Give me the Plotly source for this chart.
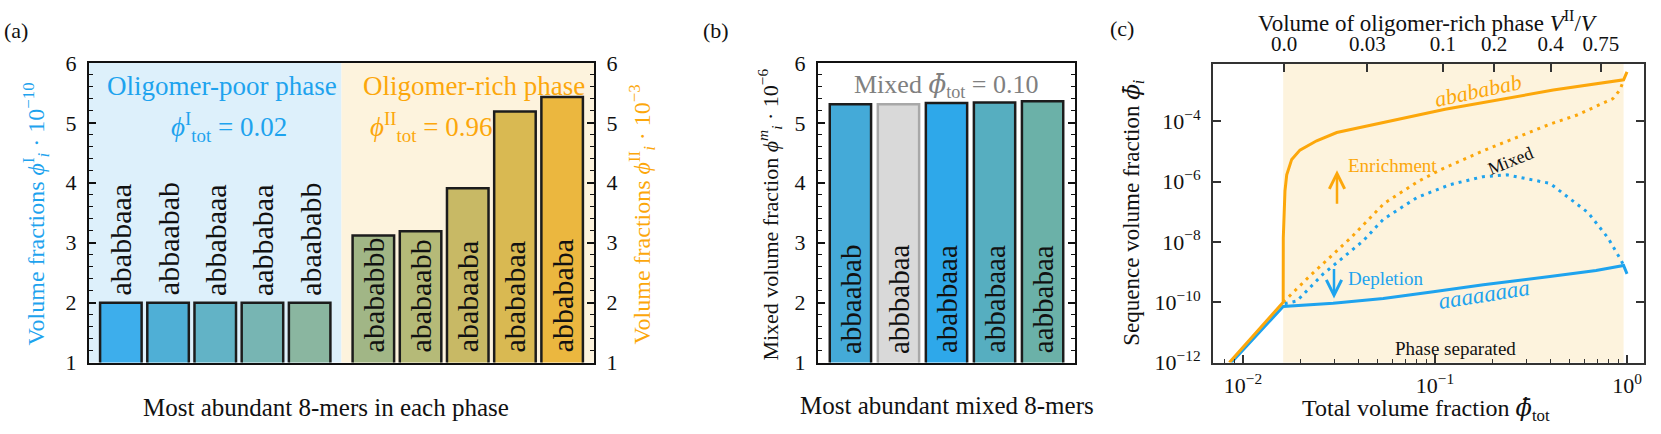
import numpy as np
import plotly.graph_objects as go

W, H = 1661, 434
FONT = "Liberation Serif"
BLUE = "#1EA3EE"
ORANGE = "#FCA70B"
GREY_TXT = "#808080"
DARK = "#1c1c1c"

# ---------------- data ----------------
# (a) oligomer-poor phase, volume fractions in units of 1e-10
poor_seqs = ["ababbaaa", "abbaabab", "abbabaaa", "aabbabaa", "abaababb"]
poor_vals = [2.0, 2.0, 2.0, 2.0, 2.0]
# (a) oligomer-rich phase, volume fractions in units of 1e-3
rich_seqs = ["abababbb", "ababaabb", "ababaaba", "abababaa", "abbababa"]
rich_vals = [3.12, 3.19, 3.91, 5.19, 5.43]
# (b) mixed state, volume fractions in units of 1e-6
mixed_seqs = ["abbaabab", "abbbabaa", "ababbaaa", "abbabaaa", "aabbabaa"]
mixed_vals = [5.31, 5.31, 5.33, 5.34, 5.36]
bar_ticks = [1, 2, 3, 4, 5, 6]

# (c) sequence volume fraction vs total volume fraction
abab_phi = [0.0085, 0.0162, 0.01622, 0.01655, 0.0169, 0.01794, 0.0198, 0.0242,
            0.0308, 0.0546, 0.113, 0.413, 0.96, 1.0]
abab_val = [1e-12, 1.0e-10, 1.35e-8, 4.9e-7, 1.66e-6, 5.4e-6, 1.1e-5, 2.24e-5,
            4.2e-5, 9.3e-5, 2.5e-4, 1.07e-3, 2.34e-3, 4.3e-3]
aaaa_phi = [0.0087, 0.0162, 0.0295, 0.0538, 0.098, 0.1786, 0.397, 0.69, 0.96, 1.0]
aaaa_val = [1e-12, 7.2e-11, 9.3e-11, 1.33e-10, 2.24e-10, 3.8e-10, 7.1e-10,
            1.12e-9, 1.66e-9, 8.7e-10]
abab_mixed_phi = [0.0162, 0.0223, 0.0366, 0.0544, 0.0816, 0.1074, 0.180, 0.270,
                  0.40, 0.55, 0.69, 0.845, 0.92, 0.96]
abab_mixed_val = [1.0e-10, 7.4e-10, 1.4e-8, 1.9e-7, 1.0e-6, 2.5e-6, 1.07e-5,
                  2.95e-5, 8.1e-5, 1.6e-4, 3.2e-4, 5.6e-4, 1.1e-3, 2.3e-3]
aaaa_mixed_phi = [0.0165, 0.0191, 0.0261, 0.0422, 0.0538, 0.0806, 0.120, 0.178,
                  0.237, 0.397, 0.627, 0.796, 0.93, 0.96]
aaaa_mixed_val = [8.9e-11, 1.1e-10, 8.5e-10, 1.07e-8, 5.6e-8, 2.95e-7, 7.9e-7,
                  1.45e-6, 1.66e-6, 8.7e-7, 9.3e-8, 1.35e-8, 2.5e-9, 1.66e-9]
phase_sep_range = [0.0162, 0.96]
c_yticks = [1e-12, 1e-10, 1e-8, 1e-6, 1e-4]
c_ytext = ["10<sup>−12</sup>", "10<sup>−10</sup>", "10<sup>−8</sup>",
           "10<sup>−6</sup>", "10<sup>−4</sup>"]
c_xticks = [0.01, 0.1, 1.0]
c_xtext = ["10<sup>−2</sup>", "10<sup>−1</sup>", "10<sup>0</sup>"]
c_xminor = [0.007, 0.008, 0.009] + [k / 100 for k in range(2, 10)] + [k / 10 for k in range(2, 10)]
top_tick_pos = [0.0164, 0.0445, 0.110, 0.203, 0.400, 0.730]
top_tick_text = ["0.0", "0.03", "0.1", "0.2", "0.4", "0.75"]

# ---------------- styles ----------------
poor_colors = ["#3DAEEC", "#4FAFD6", "#62B3C6", "#77B5B3", "#8AB6A0"]
rich_colors = ["#A1B686", "#B5BA78", "#C8B965", "#D9B952", "#EBB73F"]
mixed_colors = ["#44AAD8", "#D9D9D9", "#2EA8EA", "#56AEC0", "#6BB1A8"]
mixed_edge = [DARK, "#A8A8A8", DARK, DARK, DARK]


def px(x):
    return x / W


def py(y):
    return 1 - y / H


# bar positions (layout)
poor_x = [0.675 + i for i in range(len(poor_vals))]
rich_x = [6.025 + i for i in range(len(rich_vals))]
mixed_x = [0.675 + i for i in range(len(mixed_vals))]

fig = go.Figure()
fig.add_trace(go.Bar(x=poor_x, y=poor_vals, width=0.88, xaxis="x", yaxis="y",
                     marker=dict(color=poor_colors, line=dict(color=DARK, width=2.5)),
                     hoverinfo="skip"))
fig.add_trace(go.Bar(x=rich_x, y=rich_vals, width=0.88, xaxis="x", yaxis="y2",
                     marker=dict(color=rich_colors, line=dict(color=DARK, width=2.5)),
                     hoverinfo="skip"))
fig.add_trace(go.Bar(x=mixed_x, y=mixed_vals, width=0.86, xaxis="x2", yaxis="y3",
                     marker=dict(color=mixed_colors, line=dict(color=mixed_edge, width=2.5)),
                     hoverinfo="skip"))

# (c) curves
fig.add_trace(go.Scatter(x=abab_mixed_phi, y=abab_mixed_val, mode="lines", xaxis="x3", yaxis="y4",
                         line=dict(color=ORANGE, width=3, dash="3px,5px"), hoverinfo="skip"))
fig.add_trace(go.Scatter(x=aaaa_mixed_phi, y=aaaa_mixed_val, mode="lines", xaxis="x3", yaxis="y4",
                         line=dict(color=BLUE, width=3, dash="3px,5px"), hoverinfo="skip"))
fig.add_trace(go.Scatter(x=aaaa_phi, y=aaaa_val, mode="lines", xaxis="x3", yaxis="y4",
                         line=dict(color=BLUE, width=3), hoverinfo="skip"))
fig.add_trace(go.Scatter(x=abab_phi, y=abab_val, mode="lines", xaxis="x3", yaxis="y4",
                         line=dict(color=ORANGE, width=3), hoverinfo="skip"))
# invisible trace for top axis
fig.add_trace(go.Scatter(x=top_tick_pos, y=[c_yticks[0]] * len(top_tick_pos), mode="markers",
                         xaxis="x4", yaxis="y4", marker=dict(opacity=0), hoverinfo="skip"))

ydom = [py(372), py(54)]
tickfont = dict(family=FONT, size=22, color="#111")
frame = dict(showline=True, linecolor="#111", linewidth=2, showgrid=False, zeroline=False)
bar_y = dict(range=[1, 6], tickvals=bar_ticks, ticks="inside", ticklen=7, tickwidth=1.6,
             tickcolor="#111", tickfont=tickfont, ticklabelstandoff=6,
             minor=dict(ticks="inside", ticklen=4, tickwidth=1.3, dtick=0.2, tick0=0,
                        tickcolor="#111", showgrid=False), **frame)

cframe = dict(showline=True, linecolor="#333", linewidth=2, showgrid=False, zeroline=False)

fig.update_layout(
    width=W, height=H, margin=dict(l=0, r=0, t=0, b=0),
    paper_bgcolor="white", plot_bgcolor="white", showlegend=False, barmode="overlay",
    font=dict(family=FONT, color="#111"),
    xaxis=dict(domain=[px(89), px(594)], range=[0, 10.7], showticklabels=False, ticks="",
               mirror=True, anchor="y", **frame),
    yaxis=dict(domain=ydom, anchor="x", side="left", mirror=True, **bar_y),
    yaxis2=dict(overlaying="y", anchor="x", side="right", **bar_y),
    xaxis2=dict(domain=[px(818), px(1075)], range=[0, 5.35], showticklabels=False, ticks="",
                mirror=True, anchor="y3", **frame),
    yaxis3=dict(domain=ydom, anchor="x2", mirror="ticks", **bar_y),
    xaxis3=dict(domain=[px(1213), px(1644)], type="log", range=[-2.156, 0.0885], anchor="y4",
                tickvals=c_xticks, ticktext=c_xtext, ticks="inside", ticklen=8, tickwidth=1.6,
                tickcolor="#333", tickfont=tickfont, ticklabelstandoff=2, mirror=True,
                minor=dict(ticks="inside", ticklen=4, tickwidth=1.2, tickvals=c_xminor,
                           tickcolor="#333", showgrid=False), **cframe),
    xaxis4=dict(overlaying="x3", side="top", type="log", range=[-2.156, 0.0885], anchor="y4",
                tickvals=top_tick_pos, ticktext=top_tick_text, ticks="inside", ticklen=8,
                tickwidth=1.6, tickcolor="#333", tickfont=dict(family=FONT, size=21, color="#111"),
                ticklabelstandoff=2, **cframe),
    yaxis4=dict(domain=[py(372), py(55)], type="log", range=[-12, -2.1], anchor="x3",
                tickvals=c_yticks, ticktext=c_ytext, ticks="inside", ticklen=8, tickwidth=1.6,
                tickcolor="#333", tickfont=tickfont, ticklabelstandoff=6, mirror="ticks",
                **cframe),
)

shapes = [
    dict(type="rect", xref="x", yref="y domain", x0=0, x1=5.35, y0=0, y1=1,
         fillcolor="#DDF0FB", line=dict(width=0), layer="below"),
    dict(type="rect", xref="x", yref="y domain", x0=5.35, x1=10.7, y0=0, y1=1,
         fillcolor="#FDF3DD", line=dict(width=0), layer="below"),
    dict(type="rect", xref="x3", yref="y4 domain", x0=phase_sep_range[0], x1=phase_sep_range[1],
         y0=0, y1=1, fillcolor="#FDF3DD", line=dict(width=0), layer="below"),
]

ann = []


def txt(text, x, y, size, color="#111", angle=0, xanchor="center", yanchor="middle"):
    ann.append(dict(text=text, x=px(x), y=py(y), xref="paper", yref="paper", showarrow=False,
                    font=dict(family=FONT, size=size, color=color), textangle=angle,
                    xanchor=xanchor, yanchor=yanchor))


# bar labels
for xv, v, s in zip(poor_x, poor_vals, poor_seqs):
    ann.append(dict(text=s, x=xv, y=v, xref="x", yref="y", yanchor="bottom", xanchor="center",
                    yshift=5, textangle=-90, showarrow=False,
                    font=dict(family=FONT, size=30, color="#111")))
for xv, s in zip(rich_x, rich_seqs):
    ann.append(dict(text=s, x=xv, y=1, xref="x", yref="y2", yanchor="bottom", xanchor="center",
                    yshift=8, textangle=-90, showarrow=False,
                    font=dict(family=FONT, size=30, color="#111")))
for xv, s in zip(mixed_x, mixed_seqs):
    ann.append(dict(text=s, x=xv, y=1, xref="x2", yref="y3", yanchor="bottom", xanchor="center",
                    yshift=7, textangle=-90, showarrow=False,
                    font=dict(family=FONT, size=29, color="#111")))

PHI = "<i>\u03d5</i>"
PHIBAR = "<span style=\"font-family:'DejaVu Serif'\"><i>\u03d5\u0304</i></span>"

# panel (a)
txt("(a)", 16, 20, 22)
txt("Oligomer-poor phase", 222, 78, 27, BLUE)
txt(f"{PHI}<sup>I</sup><sub>tot</sub> = 0.02", 229, 122, 27, BLUE)
txt("Oligomer-rich phase", 474, 78, 27, ORANGE)
txt(f"{PHI}<sup>II</sup><sub>tot</sub> = 0.96", 431, 122, 27, ORANGE)
txt(f"Volume fractions {PHI}<sup>I</sup><sub><i>i</i></sub> · 10<sup>−10</sup>", 36, 215, 24,
    BLUE, angle=-90)
txt(f"Volume fractions {PHI}<sup>II</sup><sub><i>i</i></sub> · 10<sup>−3</sup>", 642, 215, 24,
    ORANGE, angle=-90)
txt("Most abundant 8-mers in each phase", 326, 420, 25)

# panel (b)
txt("(b)", 716, 20, 22)
txt(f"Mixed {PHIBAR}<sub>tot</sub> = 0.10", 946, 78, 26, GREY_TXT)
txt(f"Mixed volume fraction {PHI}<sup><i>m</i></sup><sub><i>i</i></sub> · 10<sup>−6</sup>",
    770, 215, 22, angle=-90)
txt("Most abundant mixed 8-mers", 947, 418, 25)

# panel (c)
txt("(c)", 1122, 18, 22)
txt("Volume of oligomer-rich phase <i>V</i><sup>II</sup>/<i>V</i>", 1428, 10, 23)
txt(f"Sequence volume fraction {PHIBAR}<sub><i>i</i></sub>", 1133, 213, 23, angle=-90)
txt(f"Total volume fraction {PHIBAR}<sub>tot</sub>", 1426, 422, 24)
txt("<i>abababab</i>", 1478, 83, 22, ORANGE, angle=-12)
txt("Enrichment", 1392, 163, 19, ORANGE)
txt("Mixed", 1510, 158, 18, "#111", angle=-22)
txt("Depletion", 1385, 283, 19, BLUE)
txt("<i>aaaaaaaa</i>", 1484, 300, 23, BLUE, angle=-9)
txt("Phase separated", 1455, 357, 19)

# arrows
ann.append(dict(text="", x=px(1337), y=py(168), xref="paper", yref="paper", showarrow=True,
                ax=0, ay=35, arrowhead=5, arrowsize=1.2, arrowwidth=2.5, arrowcolor=ORANGE))
ann.append(dict(text="", x=px(1334), y=py(304), xref="paper", yref="paper", showarrow=True,
                ax=0, ay=-31, arrowhead=5, arrowsize=1.2, arrowwidth=2.5, arrowcolor=BLUE))

fig.update_layout(shapes=shapes, annotations=ann)
fig.write_html("out.html", config=dict(displayModeBar=False),
               post_script="document.body.style.margin='0';")
